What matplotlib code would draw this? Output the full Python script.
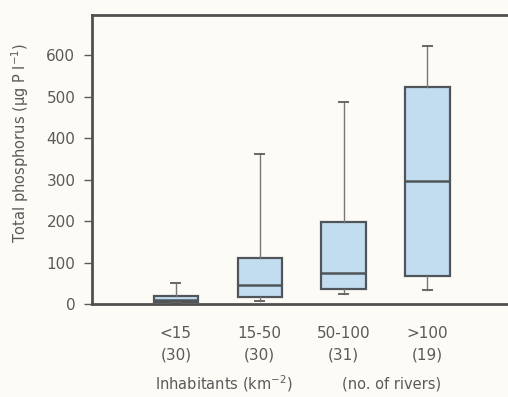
import matplotlib
matplotlib.use("Agg")
import matplotlib.pyplot as plt

# population density classes and number of rivers per class
classes = ["<15", "15-50", "50-100", ">100"]
n_rivers = [30, 30, 31, 19]

# box statistics (µg P l-1)
whis_lo = [2, 8, 25, 33]
q1 = [4, 17, 37, 67]
median = [10, 47, 75, 297]
q3 = [20, 112, 198, 524]
whis_hi = [51, 361, 488, 622]

yticks = [0, 100, 200, 300, 400, 500, 600]

bg = "#fdfbf6"
ink = "#5a5a5a"
box_fill = "#c3ddf0"
edge = "#4f5558"

plt.rcParams["font.family"] = ["DejaVu Sans"]

fig = plt.figure(figsize=(5.08, 3.97), dpi=100, facecolor=bg)
ax = fig.add_axes([92 / 508, 93 / 397, 416 / 508, 289 / 397], facecolor=bg)

stats = []
for i, name in enumerate(classes):
    stats.append({
        "label": f"{name}\n({n_rivers[i]})",
        "whislo": whis_lo[i], "q1": q1[i], "med": median[i],
        "q3": q3[i], "whishi": whis_hi[i], "fliers": [],
    })

ax.bxp(
    stats, positions=range(1, len(classes) + 1), widths=0.53,
    patch_artist=True, showfliers=False, capwidths=0.11,
    boxprops=dict(facecolor=box_fill, edgecolor=edge, linewidth=1.6),
    medianprops=dict(color=edge, linewidth=1.8),
    whiskerprops=dict(color="#777777", linewidth=1.0),
    capprops=dict(color="#666666", linewidth=1.4),
)

ax.set_xlim(0, 4.96)
ax.set_ylim(0, 697)
ax.set_yticks(yticks)
ax.tick_params(axis="y", length=6, width=1.0, color=ink, labelcolor=ink,
               labelsize=11, pad=6)
ax.tick_params(axis="x", length=0, labelcolor=ink, labelsize=11, pad=16)
for lab in ax.get_xticklabels():
    lab.set_linespacing(1.55)

ax.spines["right"].set_visible(False)
for side in ["left", "top", "bottom"]:
    ax.spines[side].set_color("#505050")
    ax.spines[side].set_linewidth(2.0)

fig.text(20 / 508, 1 - 143 / 397, "Total phosphorus (μg P l$^{-1}$)",
         rotation=90, ha="center", va="center", color=ink, fontsize=10.5)
fig.text(224 / 508, 1 - 384 / 397, "Inhabitants (km$^{-2}$)",
         ha="center", va="center", color=ink, fontsize=10.5)
fig.text(392 / 508, 1 - 384 / 397, "(no. of rivers)",
         ha="center", va="center", color=ink, fontsize=10.5)

fig.savefig("out.png", dpi=100, facecolor=bg)
